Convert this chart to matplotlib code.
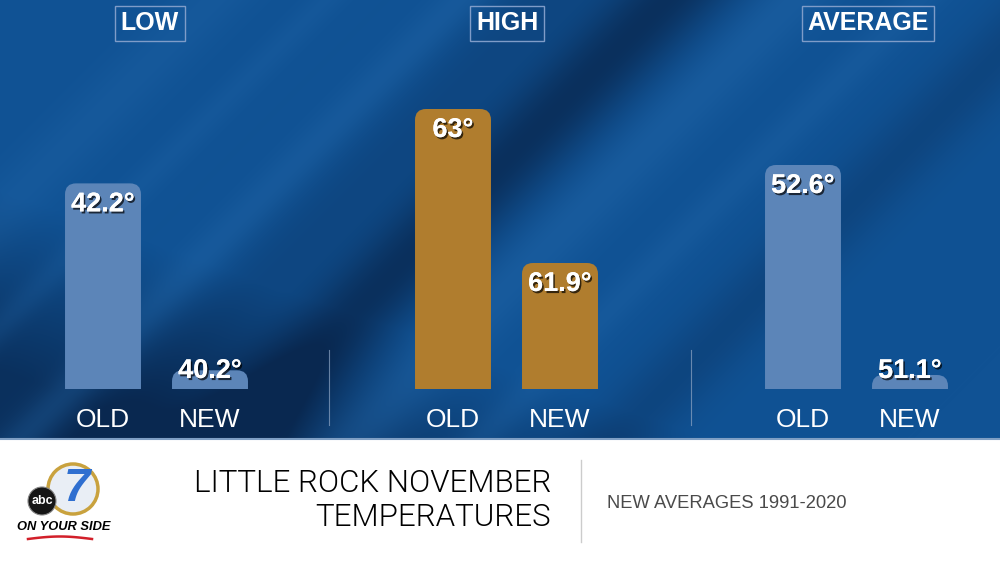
import numpy as np
import matplotlib
matplotlib.use("Agg")
import matplotlib.pyplot as plt
from matplotlib.patches import FancyBboxPatch, Circle, Rectangle
from matplotlib.transforms import blended_transform_factory
import matplotlib.patheffects as pe

# ---------------- data ----------------
groups = ["LOW", "HIGH", "AVERAGE"]
periods = ["OLD", "NEW"]
old_values = [42.2, 63.0, 52.6]
new_values = [40.2, 61.9, 51.1]
value_labels_old = ["42.2°", "63°", "52.6°"]
value_labels_new = ["40.2°", "61.9°", "51.1°"]
title_lines = ["LITTLE ROCK NOVEMBER", "TEMPERATURES"]
subtitle = "NEW AVERAGES 1991-2020"

# ---------------- layout / style ----------------
FW, FH = 1000, 563
group_centers = [156.5, 506.5, 856.5]     # px
title_centers = [150, 507, 868]            # px
y_limits = [(40.0, 43.52), (61.0, 63.35), (51.0, 53.35)]  # per-group value scales
bar_colors = ["#5c85b8", "#b07d2e", "#5c85b8"]
AX_W = 300          # px
AX_BOTTOM = 389     # px from top
AX_TOP = 60
AX_H = AX_BOTTOM - AX_TOP
PAIR_GAP = 107      # px between OLD and NEW bar centres
BAR_W = 0.71
ROUND_PX = 11

fig = plt.figure(figsize=(FW / 100, FH / 100), dpi=100)

# background axes in pixel coordinates
bg = fig.add_axes([0, 0, 1, 1])
bg.set_xlim(0, FW)
bg.set_ylim(FH, 0)
bg.axis("off")

H, W = 438, FW
yy, xx = np.mgrid[0:H, 0:W].astype(float)
p = (xx + yy) * 0.7071
d = np.zeros((H, W))
d += 0.80 * np.exp(-((p - 470) / 45) ** 2)
d += 0.30 * np.exp(-((p - 745) / 35) ** 2)
d += 0.80 * np.clip((yy - 0.35 * xx - 190) / 180, 0, 1)
d += 0.25 * np.exp(-((p - 380) / 40) ** 2)
d = np.clip(d, 0, 1)
lt = np.zeros((H, W))
lt += 0.30 * np.exp(-((p - 325) / 20) ** 2)
lt += 0.35 * np.exp(-((p - 560) / 30) ** 2)
lt += 0.25 * np.exp(-((p - 650) / 18) ** 2)
lt += 0.25 * np.exp(-((p - 150) / 30) ** 2)
lt += 0.20 * np.exp(-((p - 230) / 15) ** 2)
lt = np.clip(lt, 0, 1)
base = np.array([16, 82, 148]) / 255
dark = np.array([9, 40, 80]) / 255
light = np.array([38, 108, 175]) / 255
img = base * (1 - d[..., None]) + dark * d[..., None]
img = img * (1 - lt[..., None]) + light * lt[..., None]
bg.imshow(img, extent=(0, W, H, 0), aspect="auto", zorder=0)

# footer
bg.add_patch(Rectangle((0, 438), FW, FH - 438, fc="white", ec="none", zorder=1))
bg.plot([0, FW], [438.5, 438.5], color="#7f9fc4", lw=1.5, zorder=2)

# separators between groups
for sx in [329, 691]:
    bg.plot([sx, sx], [350, 425], color="#8fa6c4", lw=0.8, alpha=0.7, zorder=2)

# group titles
for g, tc in zip(groups, title_centers):
    bg.text(tc, 23, g, ha="center", va="center", color="white", fontsize=18,
            fontweight="bold", family="Liberation Sans", zorder=3,
            bbox=dict(boxstyle="square,pad=0.22", fc="none", ec="#7f9cc8", lw=1))

shadow = [pe.withSimplePatchShadow(offset=(1.2, -1.5), shadow_rgbFace="black", alpha=0.7),
          pe.Normal()]

for i, g in enumerate(groups):
    c = group_centers[i]
    ax = fig.add_axes([(c - AX_W / 2) / FW, (FH - AX_BOTTOM) / FH, AX_W / FW, AX_H / FH])
    ax.patch.set_alpha(0)
    ax.axis("off")
    half = AX_W / 2 / PAIR_GAP
    ax.set_xlim(0.5 - half, 0.5 + half)
    y0, y1 = y_limits[i]
    ax.set_ylim(y0, y1)
    xs = [0, 1]
    vals = [old_values[i], new_values[i]]
    labs = [value_labels_old[i], value_labels_new[i]]
    bars = ax.bar(xs, vals, width=BAR_W, color=bar_colors[i])
    x_per_px = 1 / PAIR_GAP
    y_per_px = (y1 - y0) / AX_H
    for rect in bars:
        fb = FancyBboxPatch((rect.get_x(), rect.get_y()), rect.get_width(), rect.get_height(),
                            boxstyle=f"round,pad=0,rounding_size={ROUND_PX * x_per_px}",
                            mutation_aspect=y_per_px / x_per_px,
                            fc=rect.get_facecolor(), ec="none", zorder=2)
        ax.add_patch(fb)
        fb.set_clip_path(ax.patch)
        rect.set_visible(False)
    tr = blended_transform_factory(ax.transData, ax.transAxes)
    for x, v, lab in zip(xs, vals, labs):
        frac = (v - y0) / (y1 - y0)
        ly = max(frac - 21 / AX_H, 18 / AX_H)
        ax.text(x, ly, lab, transform=tr, ha="center", va="center", color="white",
                fontsize=19.5, fontweight="bold", family="Liberation Sans",
                path_effects=shadow, zorder=4)

    for x, per in zip(xs, periods):
        ax.text(x, -31 / AX_H, per, transform=tr, ha="center", va="center",
                color="white", fontsize=19, family="Liberation Sans", clip_on=False)

# footer texts
title_font = dict(family=["Roboto", "Liberation Sans"], fontweight=300)
bg.text(551, 484, title_lines[0], ha="right", va="center", fontsize=22.5,
        color="#000000", zorder=3, **title_font)
bg.text(551, 518, title_lines[1], ha="right", va="center", fontsize=22.5,
        color="#000000", zorder=3, **title_font)
bg.plot([581, 581], [460, 542], color="#cccccc", lw=1, zorder=3)
bg.text(607, 503, subtitle, ha="left", va="center", fontsize=13.2,
        family="Liberation Sans", color="#4a4a4a", zorder=3)

# simplified station logo
bg.add_patch(Circle((73, 489), 25, fc="#e9eef5", ec="#c9a23e", lw=2.5, zorder=3))
bg.text(77, 489, "7", ha="center", va="center", fontsize=34, fontweight="bold",
        style="italic", color="#2f6fd0", family="Liberation Sans", zorder=4)
bg.add_patch(Circle((42, 501), 14, fc="#161616", ec="#888888", lw=0.8, zorder=5))
bg.text(42, 501, "abc", ha="center", va="center", fontsize=9, fontweight="bold",
        color="white", family="Liberation Sans", zorder=6)
bg.text(64, 527, "ON YOUR SIDE", ha="center", va="center", fontsize=9.3,
        fontweight="bold", style="italic", color="black", family="Liberation Sans", zorder=4)
sx_ = np.linspace(28, 92, 30)
bg.plot(sx_, 539 - 2.5 * np.sin((sx_ - 28) / 64 * np.pi), color="#d21f2a", lw=1.8, zorder=4)

fig.savefig("out.png", dpi=100)
